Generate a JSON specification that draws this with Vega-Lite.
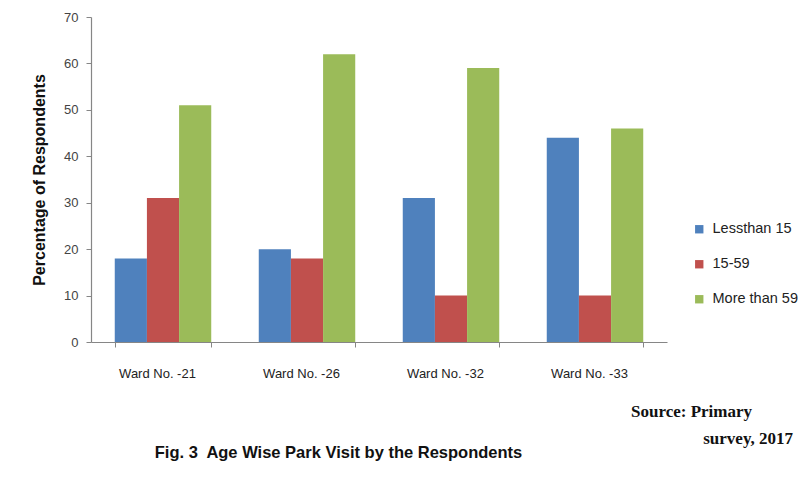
{
  "$schema": "https://vega.github.io/schema/vega-lite/v6.json",
  "width": 576,
  "height": 325,
  "autosize": {"type": "none"},
  "padding": {"left": 91, "top": 17, "right": 142, "bottom": 135},
  "background": "white",
  "title": {
    "text": ["Source: Primary", "\u200b\u00a0\u00a0\u00a0\u00a0\u00a0\u00a0\u00a0\u00a0\u00a0\u00a0\u00a0\u00a0\u00a0\u00a0\u00a0\u00a0\u00a0survey, 2017"],
    "orient": "top",
    "anchor": "start",
    "frame": "group",
    "baseline": "top",
    "offset": 0,
    "dx": 540,
    "dy": 437,
    "font": "Liberation Serif",
    "fontSize": 17,
    "fontWeight": "bold",
    "color": "#111111",
    "lineHeight": 27
  },
  "data": {
    "values": [
      {"ward": "Ward No. -21", "age": "Lessthan 15", "pct": 18},
      {"ward": "Ward No. -21", "age": "15-59", "pct": 31},
      {"ward": "Ward No. -21", "age": "More than 59", "pct": 51},
      {"ward": "Ward No. -26", "age": "Lessthan 15", "pct": 20},
      {"ward": "Ward No. -26", "age": "15-59", "pct": 18},
      {"ward": "Ward No. -26", "age": "More than 59", "pct": 62},
      {"ward": "Ward No. -32", "age": "Lessthan 15", "pct": 31},
      {"ward": "Ward No. -32", "age": "15-59", "pct": 10},
      {"ward": "Ward No. -32", "age": "More than 59", "pct": 59},
      {"ward": "Ward No. -33", "age": "Lessthan 15", "pct": 44},
      {"ward": "Ward No. -33", "age": "15-59", "pct": 10},
      {"ward": "Ward No. -33", "age": "More than 59", "pct": 46}
    ]
  },
  "mark": {"type": "bar"},
  "encoding": {
    "x": {
      "field": "ward",
      "type": "nominal",
      "sort": null,
      "scale": {"paddingInner": 0.33, "paddingOuter": 0.165},
      "axis": {
        "title": "Fig. 3\u00a0 Age Wise Park Visit by the Respondents",
        "titleFont": "Liberation Sans",
        "titleFontSize": 16.5,
        "titleFontWeight": "bold",
        "titleColor": "#111111",
        "titleAnchor": "start",
        "titleAlign": "center",
        "titleX": 247,
        "titleY": 110,
        "titleBaseline": "middle",
        "labelAngle": 0,
        "labelFont": "Liberation Sans",
        "labelFontSize": 13,
        "labelColor": "#222222",
        "labelPadding": 20,
        "labelOffset": -6,
        "tickBand": "extent",
        "tickSize": 5,
        "tickColor": "#868686",
        "domainColor": "#868686",
        "domainWidth": 1.2
      }
    },
    "xOffset": {
      "field": "age",
      "type": "nominal",
      "sort": ["Lessthan 15", "15-59", "More than 59"],
      "scale": {"paddingInner": 0, "paddingOuter": 0}
    },
    "y": {
      "field": "pct",
      "type": "quantitative",
      "scale": {"domain": [0, 70]},
      "axis": {
        "title": "Percentage of Respondents",
        "titleFont": "Liberation Sans",
        "titleFontSize": 16,
        "titleFontWeight": "bold",
        "titleColor": "#111111",
        "titlePadding": 16,
        "values": [0, 10, 20, 30, 40, 50, 60, 70],
        "grid": false,
        "labelFont": "Liberation Sans",
        "labelFontSize": 13,
        "labelColor": "#444444",
        "labelPadding": 8,
        "tickSize": 5,
        "tickColor": "#868686",
        "domainColor": "#868686",
        "domainWidth": 1.2
      }
    },
    "color": {
      "field": "age",
      "type": "nominal",
      "sort": ["Lessthan 15", "15-59", "More than 59"],
      "scale": {
        "domain": ["Lessthan 15", "15-59", "More than 59"],
        "range": ["#4F81BD", "#C0504D", "#9BBB59"]
      },
      "legend": {
        "title": null,
        "orient": "none",
        "legendX": 601,
        "legendY": 205,
        "symbolType": "square",
        "symbolSize": 70,
        "symbolStrokeWidth": 0,
        "labelFont": "Liberation Sans",
        "labelFontSize": 14.5,
        "labelColor": "#222222",
        "labelOffset": 6,
        "rowPadding": 20
      }
    }
  },
  "config": {
    "view": {"stroke": null}
  }
}
